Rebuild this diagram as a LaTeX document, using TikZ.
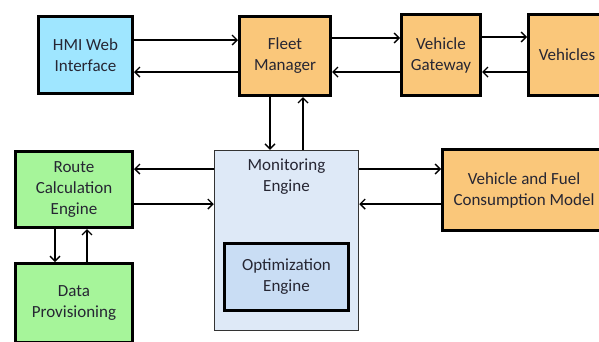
\documentclass[tikz,border=0pt]{standalone}
\usepackage{fontspec}
\setmainfont{Carlito}
\usetikzlibrary{arrows.meta}
\definecolor{orangeF}{HTML}{FAC77A}
\definecolor{cyanF}{HTML}{9FE6FF}
\definecolor{greenF}{HTML}{A6F59A}
\definecolor{monF}{HTML}{DEE9F7}
\definecolor{optF}{HTML}{C9DDF4}
\definecolor{txt}{HTML}{262633}
\begin{document}
\begin{tikzpicture}[x=1pt,y=-1pt,
  font=\fontsize{17}{21}\selectfont,
  box/.style={draw=black, line width=3pt, align=center, text=txt, inner sep=0pt},
  arr/.style={line width=1.4pt, -{Straight Barb[length=5pt,width=10pt,line width=1.4pt]}}]
\useasboundingbox (0,0) rectangle (599,341);
\node[box, fill=cyanF, minimum width=94pt, minimum height=77pt] (hmi) at (85.5,55) {HMI Web\\Interface};
\node[box, fill=orangeF, minimum width=91pt, minimum height=79pt] (fm) at (285,56) {Fleet\\Manager};
\node[box, fill=orangeF, minimum width=79pt, minimum height=81pt] (vg) at (441,55) {Vehicle\\Gateway};
\node[box, fill=orangeF, minimum width=77pt, minimum height=81pt] (veh) at (567,55) {Vehicles};
\node[box, fill=greenF, minimum width=117pt, minimum height=76pt] (route) at (74,189.5) {Route\\Calculation\\Engine};
\node[box, fill=greenF, minimum width=117pt, minimum height=79pt] (dp) at (74,303) {Data\\Provisioning};
\node[draw=black!80, line width=1.5pt, fill=monF, minimum width=144pt, minimum height=180pt,
  label={[anchor=north, yshift=-6pt, align=center, text=txt]north:Monitoring\\Engine}] (mon) at (286.5,240.5) {};
\node[box, fill=optF, minimum width=124pt, minimum height=67pt] (opt) at (286.5,277) {Optimization\\Engine};
\node[box, fill=orangeF, minimum width=163pt, minimum height=81pt] (vf) at (524,190) {Vehicle and Fuel\\Consumption Model};

\draw[arr] (hmi.east |- 0,40) -- (fm.west |- 0,40);
\draw[arr] (fm.west |- 0,72) -- (hmi.east |- 0,72);
\draw[arr] (fm.east |- 0,38) -- (vg.west |- 0,38);
\draw[arr] (vg.west |- 0,72) -- (fm.east |- 0,72);
\draw[arr] (vg.east |- 0,37) -- (veh.west |- 0,37);
\draw[arr] (veh.west |- 0,72) -- (vg.east |- 0,72);
\draw[arr] (fm.south -| 270,0) -- (mon.north -| 270,0);
\draw[arr] (mon.north -| 303,0) -- (fm.south -| 303,0);
\draw[arr] (mon.west |- 0,169) -- (route.east |- 0,169);
\draw[arr] (route.east |- 0,204) -- (mon.west |- 0,204);
\draw[arr] (mon.east |- 0,169) -- (vf.west |- 0,169);
\draw[arr] (vf.west |- 0,204) -- (mon.east |- 0,204);
\draw[arr] (route.south -| 55,0) -- (dp.north -| 55,0);
\draw[arr] (dp.north -| 87,0) -- (route.south -| 87,0);
\end{tikzpicture}
\end{document}
